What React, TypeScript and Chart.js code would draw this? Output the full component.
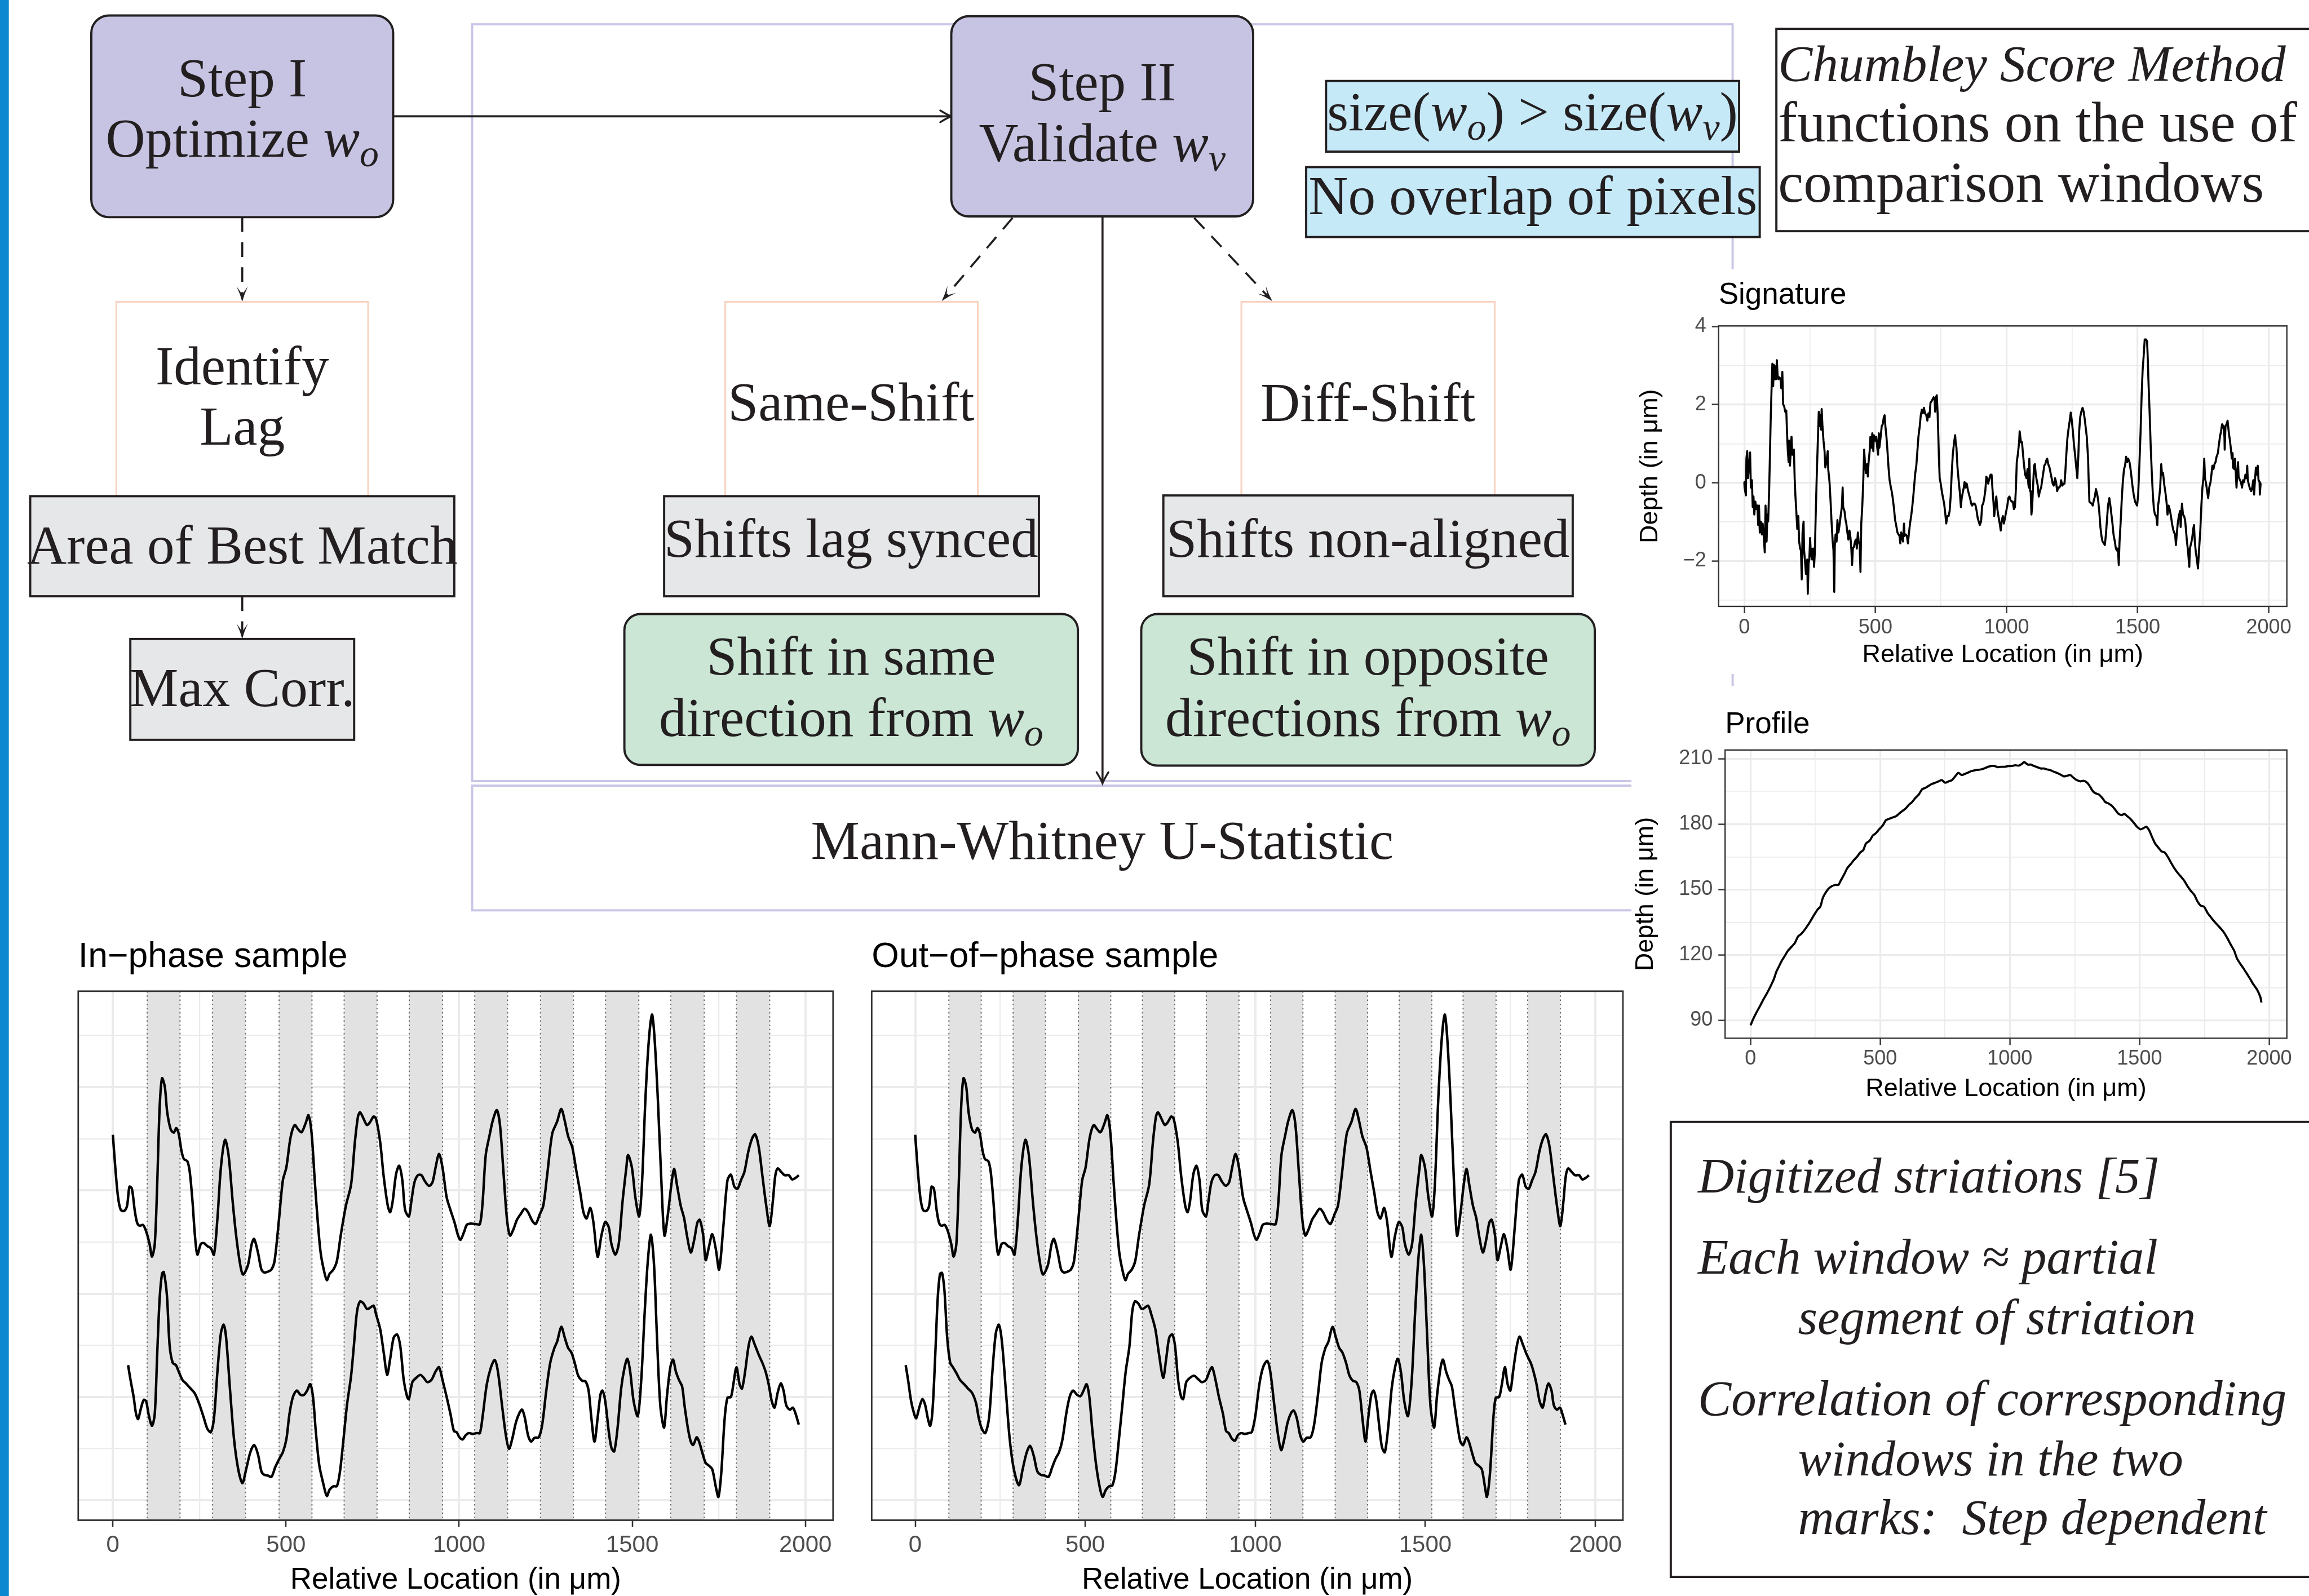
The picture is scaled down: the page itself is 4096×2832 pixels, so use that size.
import React, { useEffect, useRef } from "react";
import { Chart, registerables } from "chart.js";
Chart.register(...registerables);

type Pt = [number, number];

const PAGE_W = 4096;
const PAGE_H = 2832;

// ---------------- data ----------------
const SIGNATURE: Pt[] = [
[0,0.02],[1,-0.12],[6,-0.32],[8,0.62],[11,0.81],[14,0.12],[18,0.44],[22,0.78],[25,-0.12],[29,0.07],[32,-0.62],[35,-0.35],[38,-0.81],[42,-0.48],[46,-0.67],[50,-0.58],[53,-1.08],[56,-0.58],[59,-1.27],[63,-0.99],[67,-1.32],[70,-1.04],[74,-1.36],[78,-1.78],[81,-0.58],[85,-1.5],[88,-0.81],[91,-0.99],[95,-0.12],[98,0.81],[101,1.73],[105,2.65],[107,3.05],[110,2.47],[113,3.02],[116,2.65],[118,2.98],[121,2.65],[124,3.14],[127,2.75],[130,2.65],[134,2.7],[138,2.65],[141,2.42],[145,2.84],[148,2.01],[152,1.96],[156,1.82],[160,1.85],[163,1.27],[166,0.81],[169,0.53],[171,1.08],[174,0.44],[177,0.81],[180,1.18],[183,0.72],[185,0.81],[189,0.85],[192,0.12],[195,-0.35],[199,-0.81],[202,-1.18],[206,-0.85],[209,-1.5],[213,-1.68],[216,-1.73],[219,-2.47],[222,-1.27],[226,-0.99],[228,-1.73],[231,-1.96],[235,-2.33],[240,-1.96],[242,-2.84],[245,-2.05],[248,-1.96],[251,-1.41],[254,-1.87],[256,-1.68],[259,-1.96],[263,-1.68],[266,-2.15],[269,-1.78],[272,-0.9],[276,0.12],[280,0.99],[284,1.82],[287,1.45],[290,1.73],[293,1.36],[295,1.89],[298,1.45],[302,1.08],[306,0.81],[309,0.39],[313,0.53],[318,0.81],[320,0.35],[325,0.02],[329,-0.48],[333,-1.04],[337,-1.5],[340,-1.73],[343,-2.79],[345,-1.64],[348,-1.32],[352,-1.5],[355,-0.95],[359,-1.27],[364,-1.04],[368,-0.81],[372,-0.62],[375,-0.12],[377,-0.62],[382,-0.72],[386,-0.95],[389,-1.04],[393,-1.27],[397,-1.45],[401,-1.22],[405,-1.41],[408,-1.68],[411,-2.1],[414,-1.68],[418,-1.64],[422,-1.5],[426,-1.45],[429,-1.68],[433,-1.27],[436,-1.5],[440,-1.59],[443,-2.28],[446,-1.04],[450,-0.58],[454,0.12],[457,0.85],[460,0.53],[464,0.25],[468,0.48],[471,0.16],[474,0.53],[478,0.81],[481,1.18],[485,0.9],[488,1.27],[492,0.81],[494,1.22],[499,1.08],[503,1.18],[507,0.9],[510,0.72],[513,1.27],[515,0.9],[520,1.18],[524,1.45],[528,1.5],[532,1.68],[535,1.73],[538,1.45],[542,1.18],[546,0.81],[550,0.39],[554,0.07],[559,-0.12],[563,-0.25],[567,-0.44],[571,-0.67],[575,-0.95],[579,-1.08],[584,-1.27],[588,-1.32],[592,-1.36],[595,-1.55],[598,-1.27],[602,-1.36],[605,-1.5],[609,-1.04],[611,-1.36],[616,-1.32],[620,-1.36],[624,-1.55],[628,-1.27],[632,-1.04],[637,-0.81],[641,-0.58],[645,-0.3],[649,0.02],[652,0.25],[656,0.44],[660,0.81],[664,1.18],[669,1.45],[673,1.73],[677,1.87],[681,1.78],[685,1.92],[689,1.78],[694,1.73],[698,1.59],[702,1.78],[706,1.68],[710,2.05],[715,2.1],[719,2.15],[722,2.19],[726,2.1],[728,1.82],[731,2.19],[734,2.24],[737,1.82],[740,1.18],[742,0.67],[745,0.12],[749,-0.02],[754,-0.25],[758,-0.39],[762,-0.53],[766,-0.76],[770,-1.04],[774,-0.85],[779,-0.85],[783,-0.72],[787,-0.35],[791,0.25],[795,0.72],[800,1.04],[804,1.22],[806,1.04],[809,0.9],[813,0.39],[818,0.02],[822,-0.25],[826,-0.62],[829,-0.39],[833,-0.25],[837,-0.12],[840,0.02],[844,-0.12],[848,-0.02],[852,-0.16],[857,-0.3],[861,-0.39],[865,-0.53],[869,-0.58],[873,-0.53],[878,-0.53],[882,-0.58],[886,-0.72],[890,-0.9],[894,-0.99],[898,-1.08],[903,-0.99],[907,-0.58],[911,-0.53],[915,-0.39],[919,-0.21],[923,0.16],[926,0.12],[930,-0.02],[935,0.12],[939,0.21],[943,0.21],[946,-0.12],[950,-0.48],[953,-0.85],[957,-0.58],[961,-0.35],[965,-0.67],[969,-0.85],[974,-1.04],[978,-1.22],[982,-0.95],[986,-0.85],[990,-1.04],
[994,-0.9],[999,-0.72],[1003,-0.58],[1007,-0.39],[1011,-0.35],[1015,-0.44],[1020,-0.48],[1024,-0.48],[1028,-0.67],[1032,-0.62],[1036,-0.12],[1039,0.53],[1043,0.72],[1048,1.04],[1050,1.32],[1055,1.04],[1059,1.04],[1063,0.72],[1067,0.44],[1071,0.21],[1076,0.12],[1080,0.35],[1083,-0.02],[1085,-0.12],[1087,0.62],[1090,-0.21],[1092,-0.21],[1095,-0.81],[1098,-0.58],[1101,-0.12],[1105,0.44],[1108,0.48],[1111,0.25],[1115,0.07],[1119,-0.07],[1123,-0.35],[1127,-0.21],[1132,-0.12],[1136,0.07],[1140,0.25],[1144,0.44],[1148,0.48],[1152,0.58],[1155,0.62],[1159,0.48],[1164,0.39],[1168,0.25],[1172,0.12],[1176,-0.02],[1180,-0.07],[1185,0.12],[1189,0.02],[1193,-0.21],[1197,-0.12],[1201,-0.12],[1206,-0.07],[1208,0.07],[1213,-0.07],[1217,-0.02],[1221,-0.02],[1224,0.25],[1228,0.72],[1232,1.13],[1236,1.36],[1241,1.59],[1245,1.8],[1249,1.59],[1253,1.32],[1257,0.99],[1262,0.67],[1266,0.39],[1270,0.12],[1274,0.72],[1277,1.32],[1281,1.68],[1285,1.82],[1290,1.92],[1294,1.82],[1298,1.64],[1302,1.41],[1306,1.18],[1311,0.62],[1313,0.12],[1316,-0.48],[1320,-0.51],[1325,-0.53],[1329,-0.58],[1333,-0.44],[1337,-0.35],[1341,-0.16],[1346,-0.3],[1350,-0.48],[1354,-0.76],[1358,-1.13],[1362,-1.36],[1366,-1.5],[1371,-1.55],[1375,-1.59],[1379,-1.32],[1383,-0.95],[1387,-0.58],[1392,-0.39],[1396,-0.58],[1400,-0.81],[1404,-1.04],[1408,-1.32],[1413,-1.5],[1417,-1.68],[1421,-1.73],[1425,-1.68],[1428,-2.1],[1431,-1.5],[1435,-1.04],[1439,-0.48],[1443,-0.02],[1448,0.35],[1452,0.44],[1456,0.67],[1460,0.53],[1464,0.62],[1469,0.53],[1473,0.35],[1477,0.12],[1481,-0.12],[1485,-0.3],[1490,-0.48],[1494,-0.53],[1498,-0.58],[1502,-0.3],[1506,0.35],[1511,1.27],[1515,2.19],[1519,2.88],[1523,3.25],[1527,3.67],[1532,3.67],[1536,3.62],[1539,3.12],[1541,2.65],[1546,1.73],[1550,0.9],[1554,0.25],[1558,-0.3],[1562,-0.67],[1566,-0.81],[1571,-0.85],[1575,-1.08],[1578,-0.58],[1582,-0.39],[1586,-0.12],[1590,0.48],[1593,0.21],[1597,0.25],[1601,-0.02],[1606,-0.25],[1610,-0.48],[1614,-0.81],[1618,-0.58],[1622,-0.67],[1627,-0.85],[1631,-1.04],[1635,-1.18],[1639,-1.27],[1643,-1.32],[1646,-1.59],[1649,-1.32],[1653,-1.04],[1657,-0.85],[1662,-0.72],[1664,-1.13],[1669,-0.53],[1673,-0.81],[1677,-0.85],[1681,-0.95],[1684,-1.18],[1688,-1.5],[1692,-1.73],[1697,-2.15],[1699,-1.68],[1704,-1.55],[1708,-1.41],[1712,-1.18],[1715,-1.08],[1718,-1.5],[1722,-1.78],[1726,-1.96],[1730,-2.19],[1734,-1.73],[1739,-1.22],[1743,-0.58],[1747,-0.12],[1751,0.12],[1754,0.62],[1757,0.12],[1761,-0.02],[1765,-0.21],[1769,-0.39],[1773,-0.12],[1778,0.02],[1782,0.25],[1785,0.44],[1789,0.35],[1793,0.48],[1797,0.53],[1801,0.67],[1806,0.76],[1810,0.99],[1814,1.18],[1818,1.32],[1822,1.5],[1827,1.45],[1831,1.18],[1832,0.85],[1835,1.45],[1839,1.5],[1843,1.59],[1848,1.27],[1852,1.08],[1856,0.85],[1859,0.62],[1862,0.76],[1864,0.39],[1869,0.35],[1871,0.62],[1874,0.3],[1877,-0.12],[1880,0.21],[1883,0.53],[1885,0.16],[1890,0.07],[1894,0.02],[1898,-0.12],[1902,0.07],[1906,0.02],[1911,0.21],[1915,0.12],[1918,0.44],[1920,0.07],[1925,-0.07],[1929,-0.16],[1933,-0.21],[1937,-0.12],[1941,0.07],[1944,-0.3],[1947,0.02],[1951,0.39],[1954,0.21],[1958,0.44],[1961,0.07],[1965,0.02],[1966,-0.3],[1969,-0.02],[1972,-0.02]
];

const PROFILE: Pt[] = [
[0,87.7],[10,90.5],[22,93.4],[36,96.4],[49,99.4],[63,102.3],[76,105.3],[90,108.9],[100,112.4],[110,114.8],[120,117.2],[132,119.5],[144,121.9],[158,123.7],[171,125.5],[183,128.4],[195,129.6],[208,131.4],[222,133.8],[234,136.1],[246,138.5],[259,140.9],[269,142.1],[279,146.2],[290,148.6],[301,150.4],[313,151.5],[327,152.1],[339,152.1],[347,153.9],[361,156.9],[373,159.8],[386,161.6],[398,163.4],[412,165.2],[423,167.0],[435,168.1],[445,171.1],[459,172.3],[471,174.7],[483,175.8],[496,177.6],[510,179.4],[522,181.8],[534,182.4],[547,183.0],[561,183.6],[572,184.7],[584,185.9],[598,187.1],[611,188.9],[623,190.1],[635,191.9],[649,193.6],[662,196.0],[674,196.6],[686,197.5],[699,198.4],[713,199.0],[725,199.6],[737,200.2],[750,199.0],[764,199.6],[777,200.2],[789,201.9],[801,203.5],[815,202.5],[828,203.1],[840,203.7],[852,204.3],[865,204.7],[877,204.9],[889,205.1],[903,205.6],[916,206.3],[930,206.7],[942,206.6],[953,206.1],[967,206.3],[981,206.3],[994,206.6],[1008,206.7],[1021,207.0],[1035,206.8],[1047,207.7],[1055,208.5],[1069,207.3],[1081,207.3],[1092,206.7],[1106,206.1],[1119,205.5],[1131,205.5],[1143,205.1],[1157,204.7],[1170,204.0],[1182,203.5],[1194,202.8],[1208,201.9],[1221,202.2],[1233,202.5],[1245,201.3],[1258,200.2],[1272,199.6],[1284,199.9],[1296,199.2],[1306,197.8],[1318,195.4],[1329,194.2],[1343,193.6],[1357,191.9],[1368,190.1],[1380,189.5],[1394,188.3],[1407,186.5],[1419,184.7],[1431,184.1],[1441,184.7],[1453,183.6],[1465,182.4],[1478,180.6],[1490,178.8],[1504,177.6],[1516,178.2],[1526,178.8],[1538,177.0],[1546,174.7],[1560,171.1],[1572,169.3],[1585,167.5],[1597,167.0],[1611,164.6],[1622,162.2],[1634,159.8],[1648,157.5],[1661,155.7],[1673,153.9],[1685,151.5],[1699,149.2],[1712,147.4],[1724,144.4],[1736,142.6],[1749,142.1],[1763,139.1],[1775,137.3],[1787,135.5],[1800,133.8],[1814,132.0],[1826,130.2],[1838,127.8],[1851,124.9],[1865,121.9],[1876,118.3],[1888,116.0],[1902,113.6],[1915,111.2],[1927,108.9],[1939,106.5],[1953,104.1],[1966,100.6],[1970,98.2]
];

// In-phase / out-of-phase samples (vertical units are arbitrary: the panels have no y labels)
const INPHASE_TOP: Pt[] = [
[0,91.7],[7,84],[15,77],[23,74],[33,73.8],[41,75],[48,79.5],[55,79],[63,74],[70,71],[77,70.3],[87,70.5],[96,69],[106,66],[113,63],[121,66],[128,80],[135,98],[142,105],[150,103],[157,97],[167,93],[176,92.2],[183,93.3],[190,92],[198,88],[205,86],[215,85.5],[222,83],[230,76],[237,68],[244,63.5],[254,66],[263,66.2],[273,65.5],[283,65],[292,63.5],[302,72],[312,84],[324,90.5],[334,87],[346,76],[356,68],[368,61],[376,58.8],[390,61],[401,66],[408,67.2],[419,64],[429,60],[437,59.3],[448,59.5],[458,60],[467,62],[480,72],[491,81],[501,84],[513,91],[525,94],[535,93],[545,92.3],[557,94.5],[565,96.3],[574,92],[583,81],[592,71],[600,64],[609,60],[618,57.5],[626,59],[637,60],[647,62],[658,68],[673,75],[688,80],[699,90],[708,96],[714,97],[724,95.5],[734,94],[743,94.7],[753,96],[760,95.5],[772,90],[782,82],[794,75],[801,73.5],[808,76],[818,82.5],[827,84.4],[836,81],[844,74],[855,72.5],[862,76],[871,80.5],[881,82.2],[891,82.2],[901,80.8],[913,79.7],[923,80.5],[932,84],[942,87.2],[952,84],[964,77],[975,74],[987,71],[997,68],[1004,67],[1015,69],[1022,70.5],[1033,70.8],[1048,70.7],[1060,70.7],[1068,76],[1077,87],[1089,92],[1097,95],[1109,97.5],[1118,94],[1128,83],[1138,72],[1147,68],[1157,69.5],[1167,71.7],[1179,73.2],[1189,74.3],[1199,73.5],[1211,71.5],[1221,70.7],[1233,73],[1243,75],[1254,82],[1269,92],[1283,94.8],[1295,97.8],[1305,95],[1315,91.3],[1327,88.7],[1339,83],[1350,78],[1359,73.5],[1368,72],[1379,74.5],[1388,71],[1400,63],[1411,68],[1422,71.2],[1432,70],[1440,66],[1451,63.5],[1461,66],[1472,76],[1483,84],[1488,87],[1499,84],[1509,77],[1520,72.5],[1528,80],[1538,100],[1548,114],[1557,120],[1564,115],[1574,100],[1584,81],[1593,68],[1603,73],[1613,80],[1621,83.7],[1629,80],[1640,75],[1650,72],[1658,68],[1669,64],[1679,67],[1688,71],[1695,71.7],[1705,68],[1712,62.2],[1722,65.5],[1731,68.3],[1741,65],[1751,60],[1763,70],[1775,81],[1785,82.3],[1795,79.5],[1804,79],[1814,81],[1824,83],[1836,88],[1847,91],[1855,91.8],[1865,89],[1876,82],[1887,75],[1897,70.2],[1906,76],[1913,82],[1920,83.8],[1930,83],[1940,82.2],[1952,82.2],[1962,81.2],[1974,81.7],[1981,82.2]
];

const INPHASE_BOTTOM: Pt[] = [
[44,37.5],[51,34],[60,30],[67,26],[73,24.8],[80,27],[89,29.3],[96,29],[103,26],[113,23.2],[121,26],[128,40],[135,53],[142,59],[147,59.4],[156,54],[164,42],[173,38],[182,37.5],[190,36],[201,34],[211,33.2],[222,32.2],[237,30.8],[251,28],[263,25],[273,22.5],[283,21.7],[292,25],[302,36],[312,45],[320,47],[327,44],[339,31],[350,20],[362,13],[374,9.7],[385,13],[397,17],[408,18.7],[419,16.5],[429,12.5],[437,11.7],[448,11.5],[458,11.2],[469,13.5],[481,15.5],[491,17],[501,20],[510,26],[520,30],[531,31.5],[542,30.5],[552,30.5],[561,31.5],[570,33],[578,30],[586,22],[596,14],[608,9.5],[618,6.7],[626,8.2],[637,9],[647,9],[656,12.5],[666,20],[676,28],[688,35],[696,42],[705,50],[714,52.5],[724,52],[734,50.7],[743,51],[753,51.5],[760,49.5],[772,46],[783,40],[792,35.2],[801,39],[811,44],[821,44.7],[830,42],[840,34],[850,30],[855,29.5],[865,33.5],[876,34.5],[888,35.2],[898,34.5],[908,33.5],[920,34],[932,36],[942,37],[952,34],[964,30],[975,26],[985,22],[993,21.7],[1001,20.5],[1010,20],[1019,21],[1028,21.5],[1039,21.3],[1051,21.5],[1060,21.5],[1068,25.5],[1080,33],[1092,37],[1103,38.7],[1112,36],[1124,28],[1135,21],[1144,17.8],[1153,20],[1164,24],[1174,26.2],[1182,27],[1190,25],[1199,21],[1208,19.5],[1218,20.4],[1230,20.5],[1240,23.5],[1251,31],[1263,38],[1275,41.5],[1283,43],[1295,46.5],[1305,44],[1315,41.5],[1324,40.5],[1334,38],[1344,35],[1356,33.8],[1365,33.7],[1374,31.5],[1382,25],[1391,19.5],[1400,25],[1408,30.5],[1414,31.5],[1422,29],[1432,22],[1440,18],[1448,17.2],[1458,23],[1468,32],[1478,37],[1486,39],[1494,36],[1504,29],[1516,25.5],[1526,34],[1536,50],[1545,62],[1554,68.2],[1563,61],[1571,45],[1581,28],[1592,22.8],[1600,30],[1610,37],[1618,38.8],[1626,36],[1635,34],[1644,32.5],[1651,28],[1661,22.5],[1669,19.5],[1676,18.7],[1686,20.5],[1693,19.5],[1702,17],[1712,14.5],[1722,13.8],[1731,13],[1741,9],[1749,6.5],[1757,12],[1767,25],[1775,29.8],[1785,30],[1792,33],[1801,37],[1810,33],[1817,32],[1826,36],[1836,42],[1844,44.2],[1853,42.5],[1865,40],[1876,38],[1885,36],[1894,33],[1903,29],[1911,27.5],[1920,31],[1929,33.2],[1937,31.5],[1945,28],[1955,27],[1964,27.5],[1972,26],[1981,23.5]
];

const OUTPHASE_BOTTOM: Pt[] = [
[-28,37.5],[-21,34],[-12,29],[-3,26],[3,25],[12,27.5],[21,29.5],[29,28.2],[37,25],[44,23.2],[51,27],[59,40],[66,53],[73,59],[79,59.2],[86,55],[94,44],[103,38],[111,37],[122,35.5],[132,34],[144,33],[155,32],[167,31],[179,28.5],[187,25],[196,22.5],[206,21.5],[217,25],[227,36],[237,45],[246,47],[255,43],[267,31],[278,20],[290,13],[305,9.2],[316,13],[328,17],[338,18.5],[349,16],[359,12.5],[369,11.7],[381,11.5],[392,11.2],[403,13.5],[413,15.5],[423,17],[433,20],[444,26],[454,30],[464,31.5],[476,30.5],[486,30.2],[495,31.5],[504,33],[512,30],[521,22],[532,14],[542,9],[551,6.5],[561,8.2],[571,9],[580,9.2],[589,12.5],[599,20],[609,28],[619,36],[630,42],[638,50],[646,52.5],[656,52],[666,50.7],[675,51],[685,51.5],[694,49.5],[706,46],[717,40],[729,34.5],[738,39],[747,44],[756,44.7],[764,42],[773,34],[782,30],[788,29.5],[797,33.5],[808,34.5],[820,35],[832,34.2],[843,33.5],[855,34],[865,36],[873,37],[883,34],[893,30],[905,26],[914,22],[922,21.5],[931,20.2],[940,19.7],[949,21],[958,21.5],[969,21.3],[981,21.5],[990,21.8],[1000,25.5],[1012,33],[1023,37],[1035,38.5],[1044,36],[1056,28],[1067,21],[1076,17.5],[1085,20],[1095,24],[1105,26.2],[1113,26.8],[1122,25],[1132,21],[1141,19.5],[1151,20.4],[1163,20.5],[1173,23.5],[1185,31],[1195,38],[1206,41.5],[1215,43],[1227,46.5],[1237,44],[1247,41.5],[1256,40.5],[1267,38],[1277,35],[1287,33.8],[1297,33.5],[1306,31.5],[1315,25],[1324,19.5],[1332,25],[1341,30.5],[1348,31.5],[1356,29],[1366,22],[1373,18],[1381,17],[1391,23],[1401,32],[1411,37],[1419,39],[1428,36],[1438,29],[1449,25.5],[1460,34],[1470,50],[1479,62],[1488,68.2],[1496,61],[1505,45],[1515,28],[1526,22.8],[1534,30],[1545,37],[1552,38.8],[1561,36],[1570,34],[1578,32.5],[1586,28],[1596,22.5],[1603,19.5],[1611,18.7],[1621,20.5],[1628,19.5],[1637,17],[1647,14.5],[1657,13.8],[1666,13],[1675,9],[1681,6.5],[1690,12],[1700,25],[1707,29.8],[1717,30],[1725,33],[1734,37],[1742,33],[1750,31.5],[1758,36],[1769,42],[1777,44.2],[1786,42.5],[1798,40],[1810,38],[1818,36],[1827,33],[1836,29],[1845,27.5],[1854,31],[1862,33.2],[1871,31.5],[1878,28],[1887,27],[1896,27.5],[1903,26],[1912,23.5]
];

// comparison windows (µm)
const WINDOW_STARTS = [99, 288, 480, 668, 856, 1045, 1235, 1423, 1611, 1801];
const WINDOW_ENDS = [194, 383, 575, 763, 952, 1140, 1330, 1519, 1708, 1897];

// tick values
const X_MAJOR = [0, 500, 1000, 1500, 2000];
const X_MINOR = [250, 750, 1250, 1750];
const SIG_Y_MAJOR = [-2, 0, 2, 4];
const SIG_Y_MINOR = [-3, -1, 1, 3];
const PROF_Y_MAJOR = [90, 120, 150, 180, 210];
const PROF_Y_MINOR = [105, 135, 165, 195];
const PHASE_Y_MAJOR = [5.7, 30, 54.3, 78.6, 102.9];
const PHASE_Y_MINOR = [17.85, 42.15, 66.45, 90.75, 115.05];

// ---------------- chart panels ----------------
const SANS = '"Liberation Sans", Arial, Helvetica, sans-serif';

interface PanelSpec {
  id: string;
  left: number; top: number; width: number; height: number;
  series: Pt[][];
  lineWidth: number; tension: number;
  xMin: number; xMax: number; yMin: number; yMax: number;
  yMajor: number[]; yMinor: number[];
  showY: boolean; yTitle?: string;
  title: string; titleBaseline: number;
  titleSize: number; axisSize: number; tickSize: number;
  yAxisW: number; xAxisH: number; padTop: number; padRight: number;
  tickLen: number; tickWidth: number; tickPadX: number; tickPadY: number;
  xTitlePad: number; yTitlePad: number;
  gridMajor: number; gridMinor: number; frameWidth: number;
  bands: boolean;
}

function makeConfig(p: PanelSpec): any {
  const xTicks = [...X_MAJOR, ...X_MINOR].sort((a, b) => a - b);
  const yTicks = [...p.yMajor, ...p.yMinor].sort((a, b) => a - b);
  const isXMajor = (v: any) => X_MAJOR.indexOf(v) >= 0;
  const isYMajor = (v: any) => p.yMajor.indexOf(v) >= 0;

  const panelPlugin = {
    id: "panel_" + p.id,
    beforeDraw(chart: any) {
      const c = chart.ctx;
      c.save();
      c.fillStyle = "#ffffff";
      c.fillRect(0, 0, chart.width, chart.height);
      c.restore();
    },
    beforeDatasetsDraw(chart: any) {
      if (!p.bands) return;
      const { ctx, chartArea: a } = chart;
      const x = chart.scales.x;
      ctx.save();
      ctx.fillStyle = "#e2e2e2";
      WINDOW_STARTS.forEach((s, i) => {
        const x0 = x.getPixelForValue(s);
        const x1 = x.getPixelForValue(WINDOW_ENDS[i]);
        ctx.fillRect(x0, a.top, x1 - x0, a.bottom - a.top);
      });
      ctx.strokeStyle = "#6b6b6b";
      ctx.lineWidth = 2;
      ctx.setLineDash([2.6, 4.8]);
      [...WINDOW_STARTS, ...WINDOW_ENDS].forEach((v) => {
        const px = x.getPixelForValue(v);
        ctx.beginPath();
        ctx.moveTo(px, a.top);
        ctx.lineTo(px, a.bottom);
        ctx.stroke();
      });
      ctx.restore();
    },
    afterDraw(chart: any) {
      const { ctx, chartArea: a } = chart;
      ctx.save();
      ctx.strokeStyle = "#333333";
      ctx.lineWidth = p.frameWidth;
      ctx.strokeRect(a.left, a.top, a.right - a.left, a.bottom - a.top);
      ctx.fillStyle = "#000000";
      ctx.font = `${p.titleSize}px ${SANS}`;
      ctx.textAlign = "left";
      ctx.textBaseline = "alphabetic";
      ctx.fillText(p.title, a.left, p.titleBaseline);
      ctx.restore();
    },
  };

  return {
    type: "scatter",
    data: {
      datasets: p.series.map((s) => ({
        data: s.map(([x, y]) => ({ x, y })),
        showLine: true,
        borderColor: "#000000",
        backgroundColor: "#000000",
        borderWidth: p.lineWidth,
        borderJoinStyle: "round",
        pointRadius: 0,
        pointHoverRadius: 0,
        tension: p.tension,
        fill: false,
      })),
    },
    options: {
      animation: false,
      responsive: false,
      maintainAspectRatio: false,
      devicePixelRatio: 1,
      events: [],
      layout: { padding: { top: p.padTop, right: p.padRight, left: 0, bottom: 0 } },
      plugins: { legend: { display: false }, tooltip: { enabled: false }, title: { display: false } },
      scales: {
        x: {
          type: "linear",
          min: p.xMin,
          max: p.xMax,
          afterBuildTicks: (s: any) => {
            s.ticks = xTicks.map((v) => ({ value: v }));
          },
          afterFit: (s: any) => {
            s.height = p.xAxisH;
          },
          ticks: {
            autoSkip: false,
            maxRotation: 0,
            minRotation: 0,
            padding: p.tickPadX,
            color: "#4d4d4d",
            font: { family: SANS, size: p.tickSize, lineHeight: 1 },
            callback: (v: any) => (isXMajor(v) ? String(v) : ""),
          },
          grid: {
            color: "#ebebeb",
            lineWidth: (c: any) => (c.tick && isXMajor(c.tick.value) ? p.gridMajor : p.gridMinor),
            drawTicks: true,
            tickLength: p.tickLen,
            tickWidth: p.tickWidth,
            tickColor: (c: any) => (c.tick && isXMajor(c.tick.value) ? "#333333" : "rgba(0,0,0,0)"),
          },
          border: { display: false },
          title: {
            display: true,
            text: "Relative Location (in \u03bcm)",
            color: "#000000",
            font: { family: SANS, size: p.axisSize, lineHeight: 1 },
            padding: { top: 0, bottom: p.xTitlePad },
          },
        },
        y: {
          type: "linear",
          min: p.yMin,
          max: p.yMax,
          afterBuildTicks: (s: any) => {
            s.ticks = yTicks.map((v) => ({ value: v }));
          },
          afterFit: (s: any) => {
            s.width = p.yAxisW;
          },
          ticks: {
            display: p.showY,
            autoSkip: false,
            padding: p.tickPadY,
            color: "#4d4d4d",
            font: { family: SANS, size: p.tickSize, lineHeight: 1 },
            callback: (v: any) => (isYMajor(v) ? String(v).replace("-", "\u2212") : ""),
          },
          grid: {
            color: "#ebebeb",
            lineWidth: (c: any) => (c.tick && isYMajor(c.tick.value) ? p.gridMajor : p.gridMinor),
            drawTicks: p.showY,
            tickLength: p.tickLen,
            tickWidth: p.tickWidth,
            tickColor: (c: any) => (c.tick && isYMajor(c.tick.value) ? "#333333" : "rgba(0,0,0,0)"),
          },
          border: { display: false },
          title: {
            display: !!p.yTitle,
            text: p.yTitle || "",
            color: "#000000",
            font: { family: SANS, size: p.axisSize, lineHeight: 1 },
            padding: { top: p.yTitlePad, bottom: 0 },
          },
        },
      },
    },
    plugins: [panelPlugin],
  };
}

const SIG_SPEC: PanelSpec = {
  id: "sig", left: 2894, top: 478, width: 1202, height: 718,
  series: [SIGNATURE], lineWidth: 3.6, tension: 0,
  xMin: -98, xMax: 2069, yMin: -3.16, yMax: 4.015,
  yMajor: SIG_Y_MAJOR, yMinor: SIG_Y_MINOR, showY: true, yTitle: "Depth (in \u03bcm)",
  title: "Signature", titleBaseline: 61, titleSize: 53, axisSize: 45, tickSize: 36,
  yAxisW: 154.7, xAxisH: 120, padTop: 100.3, padRight: 39.3,
  tickLen: 12, tickWidth: 2.4, tickPadX: 8, tickPadY: 10, xTitlePad: 10.5, yTitlePad: 11,
  gridMajor: 3.2, gridMinor: 1.7, frameWidth: 2.4, bands: false,
};

const PROF_SPEC: PanelSpec = {
  id: "prof", left: 2894, top: 1217, width: 1202, height: 755,
  series: [PROFILE], lineWidth: 3.8, tension: 0.2,
  xMin: -98, xMax: 2068, yMin: 81.8, yMax: 214.0,
  yMajor: PROF_Y_MAJOR, yMinor: PROF_Y_MINOR, showY: true, yTitle: "Depth (in \u03bcm)",
  title: "Profile", titleBaseline: 83.9, titleSize: 53, axisSize: 45, tickSize: 36,
  yAxisW: 166.2, xAxisH: 129.8, padTop: 113.8, padRight: 39.3,
  tickLen: 12, tickWidth: 2.4, tickPadX: 6.7, tickPadY: 10, xTitlePad: 17.1, yTitlePad: 3.1,
  gridMajor: 3.2, gridMinor: 1.7, frameWidth: 2.4, bands: false,
};

const IN_SPEC: PanelSpec = {
  id: "in", left: 104, top: 1645, width: 1406, height: 1187,
  series: [INPHASE_TOP, INPHASE_BOTTOM], lineWidth: 4.4, tension: 0.3,
  xMin: -100, xMax: 2080, yMin: 1.0, yMax: 125.5,
  yMajor: PHASE_Y_MAJOR, yMinor: PHASE_Y_MINOR, showY: false,
  title: "In\u2212phase sample", titleBaseline: 70.8, titleSize: 62.5, axisSize: 53, tickSize: 42,
  yAxisW: 34.8, xAxisH: 134.5, padTop: 113.8, padRight: 32.2,
  tickLen: 12, tickWidth: 2.6, tickPadX: 12, tickPadY: 0, xTitlePad: 1.1, yTitlePad: 0,
  gridMajor: 4, gridMinor: 2.2, frameWidth: 2.8, bands: true,
};

const OUT_SPEC: PanelSpec = {
  ...IN_SPEC,
  id: "out", left: 1515, width: 1374,
  series: [INPHASE_TOP, OUTPHASE_BOTTOM],
  xMin: -128, xMax: 2081,
  title: "Out\u2212of\u2212phase sample",
  yAxisW: 31.3, padRight: 5.3,
};

function Plot({ spec }: { spec: PanelSpec }) {
  const ref = useRef<HTMLCanvasElement | null>(null);
  useEffect(() => {
    if (!ref.current) return;
    const chart = new Chart(ref.current, makeConfig(spec));
    return () => chart.destroy();
  }, [spec]);
  return (
    <canvas
      ref={ref}
      width={spec.width}
      height={spec.height}
      style={{ position: "absolute", left: spec.left, top: spec.top, width: spec.width, height: spec.height }}
    />
  );
}

// ---------------- diagram (drawn in the reference's 1568x1084 frame) ----------------
const INK = "#231f20";
const LAV = "#c8c6e7";
const PEACH = "#f9d3c2";
const GRAY = "#e6e7e8";
const GREEN = "#cbe6d5";
const BLUE = "#c6e9f8";
const PURPLE = "#c6c4e2";
const SERIF = '"Liberation Serif", "DejaVu Serif", serif';
const FS = 37.2;
const SUB = 26;

function Arrow({ x1, y1, x2, y2, dashed }: { x1: number; y1: number; x2: number; y2: number; dashed?: boolean }) {
  const dx = x2 - x1, dy = y2 - y1;
  const len = Math.hypot(dx, dy);
  const ux = dx / len, uy = dy / len;
  const nx = -uy, ny = ux;
  if (dashed) {
    const L = 10.5, hw = 3.8, nb = 5;
    const bx = x2 - ux * L, by = y2 - uy * L;
    const mx = x2 - ux * nb, my = y2 - uy * nb;
    const q1x = x2 - ux * L * 0.5 + nx * hw * 0.35, q1y = y2 - uy * L * 0.5 + ny * hw * 0.35;
    const q2x = x2 - ux * L * 0.5 - nx * hw * 0.35, q2y = y2 - uy * L * 0.5 - ny * hw * 0.35;
    const d = `M${x2},${y2} Q${q1x},${q1y} ${bx + nx * hw},${by + ny * hw} L${mx},${my} L${bx - nx * hw},${by - ny * hw} Q${q2x},${q2y} ${x2},${y2} Z`;
    return (
      <g>
        <line x1={x1} y1={y1} x2={mx} y2={my} stroke={INK} strokeWidth={1.4} strokeDasharray="10 7" />
        <path d={d} fill={INK} />
      </g>
    );
  }
  const L = 7.5, hw = 4;
  const bx = x2 - ux * L, by = y2 - uy * L;
  const cx = x2 - ux * L * 0.4, cy = y2 - uy * L * 0.4;
  const d = `M${bx + nx * hw},${by + ny * hw} Q${cx + nx * 1.2},${cy + ny * 1.2} ${x2},${y2} Q${cx - nx * 1.2},${cy - ny * 1.2} ${bx - nx * hw},${by - ny * hw}`;
  return (
    <g>
      <line x1={x1} y1={y1} x2={x2 - ux * 0.8} y2={y2 - uy * 0.8} stroke={INK} strokeWidth={1.4} />
      <path d={d} fill="none" stroke={INK} strokeWidth={1.3} strokeLinecap="round" />
    </g>
  );
}

function W({ sub }: { sub: string }) {
  return (
    <>
      <tspan fontStyle="italic">w</tspan>
      <tspan fontStyle="italic" fontSize={SUB} dy={6.5}>{sub}</tspan>
    </>
  );
}

function Diagram() {
  const t = { fontFamily: SERIF, fontSize: FS, fill: INK } as any;
  const it = { fontFamily: SERIF, fontSize: 34, fill: INK, fontStyle: "italic" } as any;
  return (
    <svg
      width={PAGE_W}
      height={PAGE_H}
      viewBox="0 0 1568 1084"
      preserveAspectRatio="none"
      style={{ position: "absolute", left: 0, top: 0 }}
    >
      <rect x={0} y={0} width={6} height={1084} fill="#0b88cf" />

      {/* lavender frames */}
      <rect x={320.6} y={16.5} width={856} height={514} fill="none" stroke={LAV} strokeWidth={1.5} />
      <rect x={320.6} y={533.6} width={856} height={84.7} fill="none" stroke={LAV} strokeWidth={1.5} />

      {/* arrows */}
      <Arrow x1={267} y1={79} x2={646} y2={79} />
      <Arrow x1={748.7} y1={147} x2={748.7} y2={532} />
      <Arrow x1={164.5} y1={147.5} x2={164.5} y2={205} dashed />
      <Arrow x1={164.5} y1={405} x2={164.5} y2={434} dashed />
      <Arrow x1={687.6} y1={148} x2={639.5} y2={204.5} dashed />
      <Arrow x1={811} y1={148} x2={864} y2={204.5} dashed />

      {/* peach boxes */}
      <rect x={79} y={205} width={171} height={132} fill="#ffffff" stroke={PEACH} strokeWidth={1.2} />
      <rect x={492.5} y={205} width={171.5} height={132} fill="#ffffff" stroke={PEACH} strokeWidth={1.2} />
      <rect x={843} y={205} width={172} height={132} fill="#ffffff" stroke={PEACH} strokeWidth={1.2} />

      {/* gray boxes */}
      <rect x={20.5} y={337} width={288} height={68} fill={GRAY} stroke={INK} strokeWidth={1.5} />
      <rect x={88.5} y={434} width={152} height={68.5} fill={GRAY} stroke={INK} strokeWidth={1.5} />
      <rect x={451} y={337} width={254.5} height={68} fill={GRAY} stroke={INK} strokeWidth={1.5} />
      <rect x={790} y={336.5} width={278} height={68.5} fill={GRAY} stroke={INK} strokeWidth={1.5} />

      {/* green boxes */}
      <rect x={424} y={417} width={308} height={102.5} rx={11} fill={GREEN} stroke={INK} strokeWidth={1.5} />
      <rect x={775} y={417} width={308} height={103} rx={11} fill={GREEN} stroke={INK} strokeWidth={1.5} />

      {/* blue boxes */}
      <rect x={900.5} y={55} width={280.5} height={48} fill={BLUE} stroke={INK} strokeWidth={1.5} />
      <rect x={887} y={113.5} width={308} height={47.5} fill={BLUE} stroke={INK} strokeWidth={1.5} />

      {/* step boxes */}
      <rect x={62} y={10.5} width={205} height={137} rx={12} fill={PURPLE} stroke={INK} strokeWidth={1.5} />
      <rect x={646} y={11} width={205} height={136} rx={12} fill={PURPLE} stroke={INK} strokeWidth={1.5} />

      {/* note boxes */}
      <rect x={1206.3} y={19.6} width={420} height={137.4} fill="#ffffff" stroke={INK} strokeWidth={1.5} />
      <rect x={1134.6} y={762} width={500} height={309} fill="#ffffff" stroke={INK} strokeWidth={1.5} />

      {/* texts */}
      <text {...t} x={164.5} y={65.5} textAnchor="middle">Step I</text>
      <text {...t} x={164.5} y={106.3} textAnchor="middle">Optimize{" "}<W sub="o" /></text>
      <text {...t} x={748.5} y={68} textAnchor="middle">Step II</text>
      <text {...t} x={748.5} y={109.5} textAnchor="middle">Validate{" "}<W sub="v" /></text>

      <text {...t} x={164.5} y={261} textAnchor="middle">Identify</text>
      <text {...t} x={164.5} y={302} textAnchor="middle">Lag</text>
      <text {...t} x={164.5} y={382.7} textAnchor="middle">Area of Best Match</text>
      <text {...t} x={164.5} y={479.5} textAnchor="middle">Max Corr.</text>

      <text {...t} x={578} y={285.5} textAnchor="middle">Same-Shift</text>
      <text {...t} x={578} y={378} textAnchor="middle">Shifts lag synced</text>
      <text {...t} x={578} y={458} textAnchor="middle">Shift in same</text>
      <text {...t} x={578} y={500} textAnchor="middle">direction from{" "}<W sub="o" /></text>

      <text {...t} x={929} y={285.9} textAnchor="middle">Diff-Shift</text>
      <text {...t} x={929} y={378.3} textAnchor="middle">Shifts non-aligned</text>
      <text {...t} x={929} y={458} textAnchor="middle">Shift in opposite</text>
      <text {...t} x={929} y={500} textAnchor="middle">directions from{" "}<W sub="o" /></text>

      <text {...t} x={1040.7} y={88.4} textAnchor="middle">
        size(<W sub="o" /><tspan dy={-6.5}>)</tspan>{" > "}size(<W sub="v" /><tspan dy={-6.5}>)</tspan>
      </text>
      <text {...t} x={1041} y={145.3} textAnchor="middle">No overlap of pixels</text>

      <text {...t} x={748.5} y={583.5} textAnchor="middle">Mann-Whitney U-Statistic</text>

      <text {...t} fontSize={35} fontStyle="italic" x={1207.5} y={55.1}>Chumbley Score Method</text>
      <text {...t} fontSize={38.7} x={1207.5} y={96.1}>functions on the use of</text>
      <text {...t} fontSize={38.7} x={1207.5} y={137}>comparison windows</text>

      <text {...it} x={1153} y={810}>Digitized striations [5]</text>
      <text {...it} x={1153} y={865}>{"Each window \u2248 partial"}</text>
      <text {...it} x={1221} y={906}>segment of striation</text>
      <text {...it} x={1153} y={961}>Correlation of corresponding</text>
      <text {...it} x={1221} y={1002}>windows in the two</text>
      <text {...it} x={1221} y={1042}>{"marks:\u00a0 Step dependent"}</text>
    </svg>
  );
}

export default function App() {
  return (
    <div
      style={{
        position: "absolute",
        left: 0,
        top: 0,
        width: PAGE_W,
        height: PAGE_H,
        overflow: "hidden",
        background: "#ffffff",
      }}
    >
      <Diagram />
      <Plot spec={SIG_SPEC} />
      <Plot spec={PROF_SPEC} />
      <Plot spec={IN_SPEC} />
      <Plot spec={OUT_SPEC} />
    </div>
  );
}
